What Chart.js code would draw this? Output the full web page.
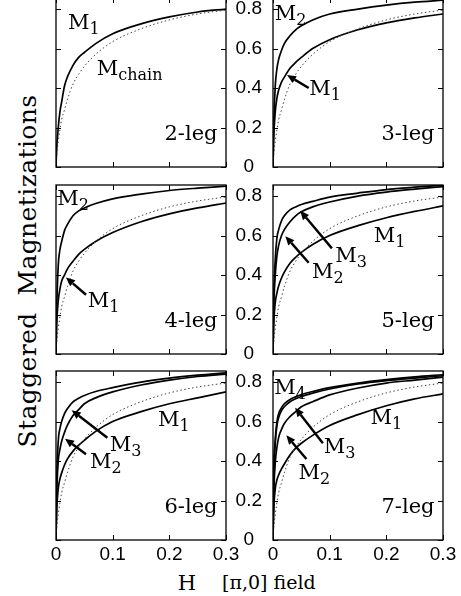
<!DOCTYPE html>
<html>
<head>
<meta charset="utf-8">
<script src="https://cdn.jsdelivr.net/npm/chart.js@4.4.1/dist/chart.umd.min.js"></script>
<style>
html, body { margin: 0; padding: 0; background: #fff; }
body { width: 461px; height: 596px; position: relative; overflow: hidden; }
canvas { position: absolute; }
.lbl { position: absolute; font-family: "DejaVu Serif", serif; color: #000; white-space: pre; line-height: 1; }
</style>
</head>
<body>
<div class="lbl" style="left:27px;top:271px;font-size:25px;letter-spacing:0.4px;transform:translate(-50%,-50%) rotate(-90deg);">Staggered  Magnetizations</div>
<div class="lbl" style="left:187px;top:583px;font-size:21px;transform:translate(-50%,-50%);">H</div>
<div class="lbl" style="left:222px;top:582px;font-size:19px;transform:translateY(-50%);">[π,0] field</div>
<script>
// field values shared by every curve
const fieldH = [0, 0.001, 0.004, 0.007, 0.01, 0.015, 0.02, 0.03, 0.04, 0.05, 0.07, 0.1, 0.15, 0.2, 0.25, 0.3];

// chain magnetization (dotted, same in every panel)
const mChain = [0, 0.05, 0.13, 0.19, 0.24, 0.29, 0.34, 0.42, 0.47, 0.51, 0.57, 0.635, 0.70, 0.745, 0.775, 0.795];

// 2-leg
const leg2M1 = [0, 0.08, 0.20, 0.28, 0.33, 0.41, 0.455, 0.515, 0.555, 0.58, 0.625, 0.675, 0.725, 0.76, 0.785, 0.80];
// 3-leg
const leg3M1 = [0, 0.13, 0.28, 0.35, 0.39, 0.43, 0.455, 0.50, 0.53, 0.555, 0.60, 0.645, 0.695, 0.73, 0.755, 0.775];
const leg3M2 = [0, 0.18, 0.41, 0.50, 0.545, 0.59, 0.625, 0.665, 0.695, 0.715, 0.745, 0.775, 0.80, 0.82, 0.835, 0.845];
// 4-leg
const leg4M1 = [0, 0.13, 0.27, 0.33, 0.37, 0.40, 0.43, 0.47, 0.505, 0.53, 0.57, 0.615, 0.67, 0.71, 0.74, 0.765];
const leg4M2 = [0, 0.20, 0.45, 0.53, 0.57, 0.625, 0.655, 0.70, 0.725, 0.74, 0.762, 0.786, 0.81, 0.828, 0.84, 0.85];
// 5-leg
const leg5M1 = [0, 0.13, 0.26, 0.31, 0.345, 0.385, 0.415, 0.46, 0.49, 0.515, 0.555, 0.60, 0.65, 0.69, 0.722, 0.75];
const leg5M2 = [0, 0.20, 0.40, 0.50, 0.55, 0.60, 0.63, 0.67, 0.70, 0.72, 0.745, 0.77, 0.80, 0.82, 0.835, 0.848];
const leg5M3 = [0, 0.24, 0.48, 0.59, 0.63, 0.675, 0.70, 0.73, 0.745, 0.757, 0.773, 0.795, 0.815, 0.833, 0.845, 0.855];
// 6-leg
const leg6M1 = [0, 0.13, 0.26, 0.31, 0.34, 0.38, 0.41, 0.45, 0.48, 0.505, 0.55, 0.60, 0.65, 0.69, 0.72, 0.75];
const leg6M2 = [0, 0.20, 0.40, 0.46, 0.50, 0.545, 0.58, 0.63, 0.66, 0.69, 0.72, 0.75, 0.785, 0.81, 0.828, 0.84];
const leg6M3 = [0, 0.26, 0.50, 0.565, 0.60, 0.64, 0.665, 0.70, 0.718, 0.732, 0.752, 0.772, 0.80, 0.82, 0.835, 0.847];
// 7-leg
const leg7M1 = [0, 0.13, 0.26, 0.305, 0.33, 0.36, 0.385, 0.43, 0.465, 0.49, 0.53, 0.58, 0.635, 0.68, 0.715, 0.74];
const leg7M2 = [0, 0.20, 0.39, 0.47, 0.52, 0.56, 0.59, 0.625, 0.65, 0.675, 0.70, 0.735, 0.77, 0.795, 0.81, 0.825];
const leg7M3 = [0, 0.27, 0.49, 0.58, 0.62, 0.655, 0.675, 0.70, 0.715, 0.727, 0.744, 0.765, 0.79, 0.807, 0.82, 0.832];
const leg7M4 = [0, 0.30, 0.51, 0.60, 0.64, 0.67, 0.69, 0.712, 0.725, 0.737, 0.752, 0.772, 0.795, 0.812, 0.826, 0.837];

// tick values
const xTicks = [0, 0.1, 0.2, 0.3];
const yTicks = [0, 0.2, 0.4, 0.6, 0.8];

// panels: curves plus the text and arrows written on them (in H / M units)
const panels = [
  { row: 0, col: 0, name: '2-leg', curves: [leg2M1],
    notes: [['M', '1', 0.021, 0.70], ['M', 'chain', 0.072, 0.466]], arrows: [] },
  { row: 0, col: 1, name: '3-leg', curves: [leg3M1, leg3M2],
    notes: [['M', '2', 0.003, 0.745], ['M', '1', 0.064, 0.365]],
    arrows: [[0.063, 0.40, 0.0247, 0.466]] },
  { row: 1, col: 0, name: '4-leg', curves: [leg4M1, leg4M2],
    notes: [['M', '2', 0.002, 0.755], ['M', '1', 0.056, 0.24]],
    arrows: [[0.053, 0.30, 0.0176, 0.388]] },
  { row: 1, col: 1, name: '5-leg', curves: [leg5M1, leg5M2, leg5M3],
    notes: [['M', '1', 0.178, 0.569], ['M', '3', 0.11, 0.467], ['M', '2', 0.069, 0.383]],
    arrows: [[0.104, 0.535, 0.048, 0.726], [0.063, 0.462, 0.0218, 0.597]] },
  { row: 2, col: 0, name: '6-leg', curves: [leg6M1, leg6M2, leg6M3],
    notes: [['M', '1', 0.18, 0.577], ['M', '3', 0.095, 0.45], ['M', '2', 0.06, 0.366]],
    arrows: [[0.0906, 0.518, 0.0277, 0.657], [0.053, 0.434, 0.0159, 0.513]] },
  { row: 2, col: 1, name: '7-leg', curves: [leg7M1, leg7M2, leg7M3, leg7M4],
    notes: [['M', '4', 0.002, 0.738], ['M', '1', 0.172, 0.586], ['M', '3', 0.0894, 0.439], ['M', '2', 0.045, 0.307]],
    arrows: [[0.088, 0.49, 0.039, 0.67], [0.059, 0.41, 0.0235, 0.53]] }
];

const colLeft = [56, 273];
const rowBottom = [167, 354, 540];
const plotW = 170, plotH = 169;
const yMax = 0.856;
const serif = '"DejaVu Serif", serif';
const sans = '"Liberation Sans", Arial, sans-serif';

function drawArrow(ctx, x0, y0, x1, y1) {
    const ang = Math.atan2(y1 - y0, x1 - x0);
    const len = 9, w = 4;
    const bx = x1 - len * Math.cos(ang), by = y1 - len * Math.sin(ang);
    ctx.lineWidth = 2.4;
    ctx.beginPath();
    ctx.moveTo(x0, y0);
    ctx.lineTo(bx, by);
    ctx.stroke();
    ctx.beginPath();
    ctx.moveTo(x1, y1);
    ctx.lineTo(bx + w * Math.sin(ang), by - w * Math.cos(ang));
    ctx.lineTo(bx - w * Math.sin(ang), by + w * Math.cos(ang));
    ctx.closePath();
    ctx.fill();
}

// box, inward ticks, labels and arrows
function framePlugin(p) {
    return {
        id: 'frame',
        afterDatasetsDraw(chart) {
            const { ctx, chartArea: a, scales: { x, y } } = chart;
            ctx.save();
            ctx.strokeStyle = '#000';
            ctx.fillStyle = '#000';
            ctx.lineWidth = 1;
            ctx.beginPath();
            xTicks.forEach(v => {
                const px = Math.round(x.getPixelForValue(v)) + 0.5;
                ctx.moveTo(px, a.bottom); ctx.lineTo(px, a.bottom - 5);
                ctx.moveTo(px, a.top); ctx.lineTo(px, a.top + 5);
            });
            yTicks.forEach(v => {
                const py = Math.round(y.getPixelForValue(v)) + 0.5;
                ctx.moveTo(a.left, py); ctx.lineTo(a.left + 5, py);
                ctx.moveTo(a.right, py); ctx.lineTo(a.right - 5, py);
            });
            ctx.stroke();
            ctx.lineWidth = 1.3;
            ctx.strokeRect(a.left, a.top, a.right - a.left, a.bottom - a.top);

            ctx.textBaseline = 'alphabetic';
            ctx.textAlign = 'left';
            p.notes.forEach(([main, sub, h, m]) => {
                const px = x.getPixelForValue(h), py = y.getPixelForValue(m);
                ctx.font = '21px ' + serif;
                ctx.fillText(main, px, py);
                const w = ctx.measureText(main).width;
                ctx.font = '16px ' + serif;
                ctx.fillText(sub, px + w, py + 5);
            });
            p.arrows.forEach(([h0, m0, h1, m1]) => {
                drawArrow(ctx, x.getPixelForValue(h0), y.getPixelForValue(m0),
                          x.getPixelForValue(h1), y.getPixelForValue(m1));
            });
            ctx.font = '21px ' + serif;
            ctx.textAlign = 'right';
            ctx.fillText(p.name, x.getPixelForValue(0.285), y.getPixelForValue(0.135));
            ctx.restore();
        }
    };
}

function makePanel(p) {
    const left = colLeft[p.col], bottom = rowBottom[p.row], top = bottom - plotH;
    const showY = p.col === 1, showX = p.row === 2;
    const pad = 30;
    const padL = showY ? 47 : pad, padB = showX ? 34 : pad;
    const cv = document.createElement('canvas');
    cv.width = plotW + padL + pad;
    cv.height = plotH + pad + padB;
    cv.style.left = (left - padL) + 'px';
    cv.style.top = (top - pad) + 'px';
    document.body.appendChild(cv);

    const datasets = [{
        data: fieldH.map((h, i) => ({ x: h, y: mChain[i] })),
        borderColor: '#444', borderWidth: 1, borderDash: [1.5, 2.5]
    }];
    p.curves.forEach(c => datasets.push({
        data: fieldH.map((h, i) => ({ x: h, y: c[i] })),
        borderColor: '#000', borderWidth: 1.7
    }));

    new Chart(cv, {
        type: 'line',
        data: { datasets },
        options: {
            responsive: false,
            animation: false,
            layout: { padding: { left: showY ? 0 : pad, right: pad, top: pad, bottom: showX ? 0 : pad } },
            elements: { point: { radius: 0 }, line: { cubicInterpolationMode: 'monotone' } },
            plugins: { legend: { display: false }, tooltip: { enabled: false } },
            scales: {
                x: {
                    type: 'linear', min: 0, max: 0.3, display: showX,
                    grid: { display: false, drawTicks: false }, border: { display: false },
                    afterBuildTicks: s => { s.ticks = xTicks.map(v => ({ value: v })); },
                    afterFit: s => { if (showX) s.height = padB; },
                    ticks: { padding: 3, color: '#000', font: { family: sans, size: 19 },
                             maxRotation: 0, autoSkip: false, callback: v => String(v) }
                },
                y: {
                    type: 'linear', min: 0, max: yMax, display: showY,
                    grid: { display: false, drawTicks: false }, border: { display: false },
                    afterBuildTicks: s => { s.ticks = yTicks.map(v => ({ value: v })); },
                    afterFit: s => { if (showY) s.width = padL; },
                    ticks: { padding: 11, crossAlign: 'center', color: '#000',
                             font: { family: sans, size: 19 }, autoSkip: false, callback: v => String(v) }
                }
            }
        },
        plugins: [framePlugin(p)]
    });
}

panels.forEach(makePanel);
</script>
</body>
</html>
